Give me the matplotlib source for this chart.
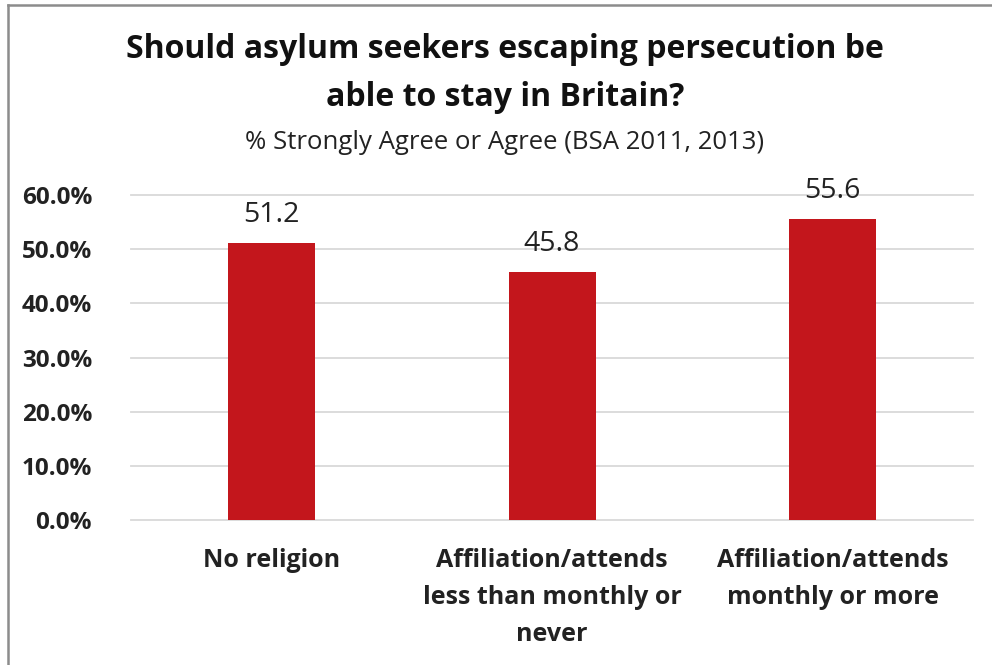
import matplotlib.pyplot as plt
from matplotlib.lines import Line2D
from matplotlib.ticker import FuncFormatter

categories = ['No religion',
              'Affiliation/attends\nless than monthly or\nnever',
              'Affiliation/attends\nmonthly or more']
values = [51.2, 45.8, 55.6]
yticks = [0, 10, 20, 30, 40, 50, 60]

plt.rcParams['font.family'] = ['Open Sans', 'DejaVu Sans']

fig = plt.figure(figsize=(9.92, 6.65), dpi=100)
ax = fig.add_axes([0.132, 0.2175, 0.849, 0.4895])

x = range(len(categories))
ax.bar(x, values, width=0.31, color='#C3161C', zorder=3)

for xi, v in zip(x, values):
    ax.annotate(f'{v:.1f}', (xi, v), xytext=(0, 10), textcoords='offset points',
                ha='center', va='bottom', fontsize=20.5, color='#222222')

ax.set_xlim(-0.5, 2.5)
ax.set_ylim(0, 60)
ax.set_yticks(yticks)
ax.yaxis.set_major_formatter(FuncFormatter(lambda v, p: f'{v:.1f}%'))
ax.grid(axis='y', color='#d9d9d9', linewidth=1.3, zorder=0)
for gl in ax.get_ygridlines():
    gl.set_clip_on(False)

ax.set_xticks(list(x))
ax.set_xticklabels(categories, fontsize=18, fontweight='bold', linespacing=1.63,
                   va='top')
for lbl in ax.get_yticklabels():
    lbl.set_fontsize(17.5)
    lbl.set_fontweight('bold')
ax.tick_params(axis='both', length=0, colors='#222222')
ax.tick_params(axis='y', pad=28)
ax.tick_params(axis='x', pad=20)
for s in ax.spines.values():
    s.set_visible(False)

fig.text(0.509, 0.925, 'Should asylum seekers escaping persecution be',
         ha='center', va='center', fontsize=23, fontweight='bold', color='#111111')
fig.text(0.509, 0.854, 'able to stay in Britain?',
         ha='center', va='center', fontsize=23, fontweight='bold', color='#111111')
fig.text(0.509, 0.786, '% Strongly Agree or Agree (BSA 2011, 2013)',
         ha='center', va='center', fontsize=18.5, color='#222222')

# border along top and left
fig.add_artist(Line2D([0.008, 1.0], [0.9925, 0.9925], color='#8c8c8c', linewidth=1.8,
                      transform=fig.transFigure))
fig.add_artist(Line2D([0.008, 0.008], [0.0, 0.9925], color='#8c8c8c', linewidth=1.8,
                      transform=fig.transFigure))

fig.savefig('out.png', dpi=100)
